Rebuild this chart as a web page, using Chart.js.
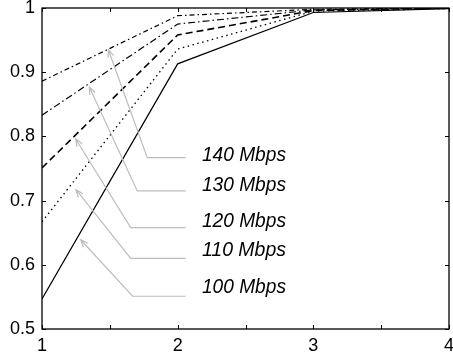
<!DOCTYPE html>
<html>
<head>
<meta charset="utf-8">
<script src="https://cdn.jsdelivr.net/npm/chart.js@4/dist/chart.umd.min.js"></script>
<style>
  html, body { margin: 0; padding: 0; background: #fff; }
  #wrap { width: 453px; height: 356px; }
</style>
</head>
<body>
<div id="wrap"><canvas id="myChart" width="453" height="356"></canvas></div>
<script>
// x positions and one value list per rate
const xValues = [1, 2, 3, 4];
const rates = ["100 Mbps", "110 Mbps", "120 Mbps", "130 Mbps", "140 Mbps"];
const s100 = [0.547, 0.913, 0.993, 0.999];
const s110 = [0.667, 0.936, 0.995, 0.999];
const s120 = [0.751, 0.958, 0.996, 1.0];
const s130 = [0.833, 0.975, 0.997, 1.0];
const s140 = [0.886, 0.988, 0.998, 1.0];
const xTicks = [1, 2, 3, 4];
const yTicks = [0.5, 0.6, 0.7, 0.8, 0.9, 1];

// label callouts, in data units: arrow tip, elbow, end of line, text anchor
const calloutTip = [[1.285, 0.639], [1.251, 0.717], [1.248, 0.796], [1.349, 0.877], [1.489, 0.935]];
const calloutElbow = [[1.668, 0.551], [1.654, 0.610], [1.654, 0.658], [1.702, 0.715], [1.776, 0.767]];
const calloutEndX = 2.059;
const labelX = 2.179;
const labelBaseY = [0.5556, 0.6137, 0.6593, 0.7154, 0.7622];

const dashes = [[], [1.5, 3.5], [7, 4], [7, 3, 1.5, 3], [5, 3, 1.5, 3]];
const widths = [1.2, 1.3, 1.6, 1.2, 1.2];
const allSeries = [s100, s110, s120, s130, s140];

const FONT = "'Liberation Sans', Arial, Helvetica, sans-serif";

function noPad(s) {
  s.paddingTop = 0; s.paddingBottom = 0; s.paddingLeft = 0; s.paddingRight = 0;
}

const framePlugin = {
  id: "frame",
  afterDraw(chart) {
    const { ctx, chartArea: a, scales } = chart;
    const xs = scales.x, ys = scales.y;
    ctx.save();
    ctx.strokeStyle = "#000";
    ctx.lineWidth = 1.3;
    ctx.strokeRect(a.left, a.top, a.right - a.left, a.bottom - a.top);
    ctx.lineWidth = 1;
    const t = 4;
    ctx.beginPath();
    [1, 1.5, 2, 2.5, 3, 3.5, 4].forEach((v) => {
      const px = Math.round(xs.getPixelForValue(v)) + 0.5;
      ctx.moveTo(px, a.bottom); ctx.lineTo(px, a.bottom - t);
      ctx.moveTo(px, a.top); ctx.lineTo(px, a.top + t);
    });
    yTicks.forEach((v) => {
      const py = Math.round(ys.getPixelForValue(v)) + 0.5;
      ctx.moveTo(a.left, py); ctx.lineTo(a.left + t, py);
      ctx.moveTo(a.right, py); ctx.lineTo(a.right - t, py);
    });
    ctx.stroke();

    // callouts
    ctx.strokeStyle = "#bdbdbd";
    ctx.lineWidth = 1.2;
    rates.forEach((r, i) => {
      const tx = xs.getPixelForValue(calloutTip[i][0]);
      const ty = ys.getPixelForValue(calloutTip[i][1]);
      const ex = xs.getPixelForValue(calloutElbow[i][0]);
      const ey = ys.getPixelForValue(calloutElbow[i][1]);
      const fx = xs.getPixelForValue(calloutEndX);
      ctx.beginPath();
      ctx.moveTo(fx, ey); ctx.lineTo(ex, ey); ctx.lineTo(tx, ty);
      const ang = Math.atan2(ey - ty, ex - tx);
      const h = 8, spread = 0.38;
      ctx.moveTo(tx + h * Math.cos(ang - spread), ty + h * Math.sin(ang - spread));
      ctx.lineTo(tx, ty);
      ctx.lineTo(tx + h * Math.cos(ang + spread), ty + h * Math.sin(ang + spread));
      ctx.stroke();
      ctx.fillStyle = "#000";
      ctx.font = "italic 20.5px " + FONT;
      ctx.textBaseline = "alphabetic";
      ctx.fillText(r, xs.getPixelForValue(labelX), ys.getPixelForValue(labelBaseY[i]), 84);
    });
    ctx.restore();
  },
};

new Chart(document.getElementById("myChart"), {
  type: "line",
  data: {
    datasets: allSeries.map((s, i) => ({
      label: rates[i],
      data: xValues.map((x, j) => ({ x: x, y: s[j] })),
      borderColor: "#000",
      borderWidth: widths[i],
      borderDash: dashes[i],
      pointRadius: 0,
      tension: 0,
      fill: false,
    })),
  },
  options: {
    responsive: false,
    animation: false,
    events: [],
    layout: { autoPadding: false, padding: { top: 8, right: 4, left: 0, bottom: 0 } },
    plugins: { legend: { display: false }, tooltip: { enabled: false } },
    scales: {
      x: {
        type: "linear",
        min: 1,
        max: 4,
        afterBuildTicks: (s) => { s.ticks = xTicks.map((v) => ({ value: v })); },
        afterFit: (s) => { s.height = 27; noPad(s); },
        grid: { display: false, drawTicks: false },
        border: { display: false },
        ticks: { color: "#000", padding: 6, maxRotation: 0, font: { family: FONT, size: 18 } },
      },
      y: {
        min: 0.5,
        max: 1,
        afterBuildTicks: (s) => { s.ticks = yTicks.map((v) => ({ value: v })); },
        afterFit: (s) => { s.width = 42; noPad(s); },
        grid: { display: false, drawTicks: false },
        border: { display: false },
        ticks: {
          color: "#000",
          padding: 7,
          font: { family: FONT, size: 18 },
          callback: (v) => String(Number(v.toFixed(1))),
        },
      },
    },
  },
  plugins: [framePlugin],
});
</script>
</body>
</html>
